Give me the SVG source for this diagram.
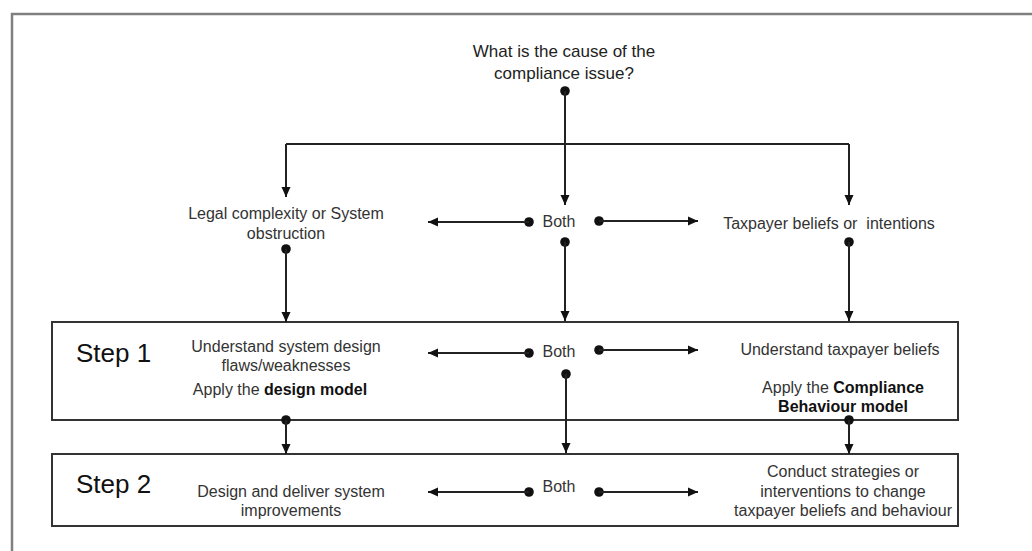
<svg xmlns="http://www.w3.org/2000/svg" width="1032" height="551" viewBox="0 0 1032 551">
<style>
.t{font-family:"Liberation Sans",Arial,sans-serif;font-size:16px;fill:#333;text-anchor:middle}
.ttl{font-family:"Liberation Sans",Arial,sans-serif;font-size:17px;fill:#222;text-anchor:middle}
.step{font-family:"Liberation Sans",Arial,sans-serif;font-size:26px;fill:#111}
.b{font-weight:bold;fill:#111}
.box{fill:#fff;stroke:#333;stroke-width:2}
.c{stroke:#222;stroke-width:2;fill:none}
.a{marker-end:url(#ah)}
.dot{fill:#111}
</style>
<defs>
<marker id="ah" markerUnits="userSpaceOnUse" markerWidth="12" markerHeight="10" viewBox="0 0 12 10" refX="10" refY="5" orient="auto">
<path d="M0,0.5 L10,5 L0,9.5 Z" fill="#111"/>
</marker>
</defs>
<rect x="0" y="0" width="1032" height="551" fill="#fff"/>
<path d="M12,560 V14 H1040" fill="none" stroke="#808080" stroke-width="2.5"/>

<g id="step1">
<rect class="box" x="52" y="322" width="906" height="98"/>
<text class="step" x="76" y="362">Step 1</text>
</g>
<g id="step2">
<rect class="box" x="52" y="454" width="906" height="72"/>
<text class="step" x="76" y="493">Step 2</text>
</g>

<g id="connectors">
<circle class="dot" cx="565" cy="91" r="4.8"/>
<path class="c a" d="M565,91 V205"/>
<path class="c" d="M286,144 H849"/>
<path class="c a" d="M286,144 V197"/>
<path class="c a" d="M849,144 V205"/>

<circle class="dot" cx="529" cy="222" r="4.8"/>
<path class="c a" d="M529,222 H428"/>
<circle class="dot" cx="599" cy="221" r="4.8"/>
<path class="c a" d="M599,221 H698"/>

<circle class="dot" cx="286" cy="249" r="4.8"/>
<path class="c a" d="M286,249 V322"/>
<circle class="dot" cx="565" cy="242" r="4.8"/>
<path class="c a" d="M565,242 V321"/>
<circle class="dot" cx="849" cy="242" r="4.8"/>
<path class="c a" d="M849,242 V321"/>

<circle class="dot" cx="529" cy="353" r="4.8"/>
<path class="c a" d="M529,353 H428"/>
<circle class="dot" cx="599" cy="350" r="4.8"/>
<path class="c a" d="M599,350 H698"/>

<circle class="dot" cx="566" cy="374" r="4.8"/>
<path class="c a" d="M566,374 V453"/>
<circle class="dot" cx="286" cy="420" r="4.8"/>
<path class="c a" d="M286,420 V454"/>
<circle class="dot" cx="849" cy="420" r="4.8"/>
<path class="c a" d="M849,420 V454"/>

<circle class="dot" cx="529" cy="492" r="4.8"/>
<path class="c a" d="M529,492 H428"/>
<circle class="dot" cx="599" cy="492" r="4.8"/>
<path class="c a" d="M599,492 H698"/>
</g>

<g id="question">
<text class="ttl" x="564" y="57">What is the cause of the</text>
<text class="ttl" x="564" y="79">compliance issue?</text>
</g>
<g id="legal">
<text class="t" x="286" y="219">Legal complexity or System</text>
<text class="t" x="286" y="239">obstruction</text>
</g>
<g id="both1"><text class="t" x="559" y="227">Both</text></g>
<g id="taxpayer">
<text class="t" x="829" y="229" style="white-space:pre">Taxpayer beliefs or  intentions</text>
</g>
<g id="understand-system">
<text class="t" x="286" y="352">Understand system design</text>
<text class="t" x="286" y="371">flaws/weaknesses</text>
<text class="t" x="280" y="395">Apply the <tspan class="b">design model</tspan></text>
</g>
<g id="both2"><text class="t" x="559" y="357">Both</text></g>
<g id="understand-taxpayer">
<text class="t" x="840" y="355">Understand taxpayer beliefs</text>
<text class="t" x="843" y="393">Apply the <tspan class="b">Compliance</tspan></text>
<text class="t b" x="843" y="412">Behaviour model</text>
</g>
<g id="design-deliver">
<text class="t" x="291" y="497">Design and deliver system</text>
<text class="t" x="291" y="516">improvements</text>
</g>
<g id="both3"><text class="t" x="559" y="492">Both</text></g>
<g id="conduct">
<text class="t" x="843" y="477">Conduct strategies or</text>
<text class="t" x="843" y="497">interventions to change</text>
<text class="t" x="843" y="516">taxpayer beliefs and behaviour</text>
</g>
</svg>
